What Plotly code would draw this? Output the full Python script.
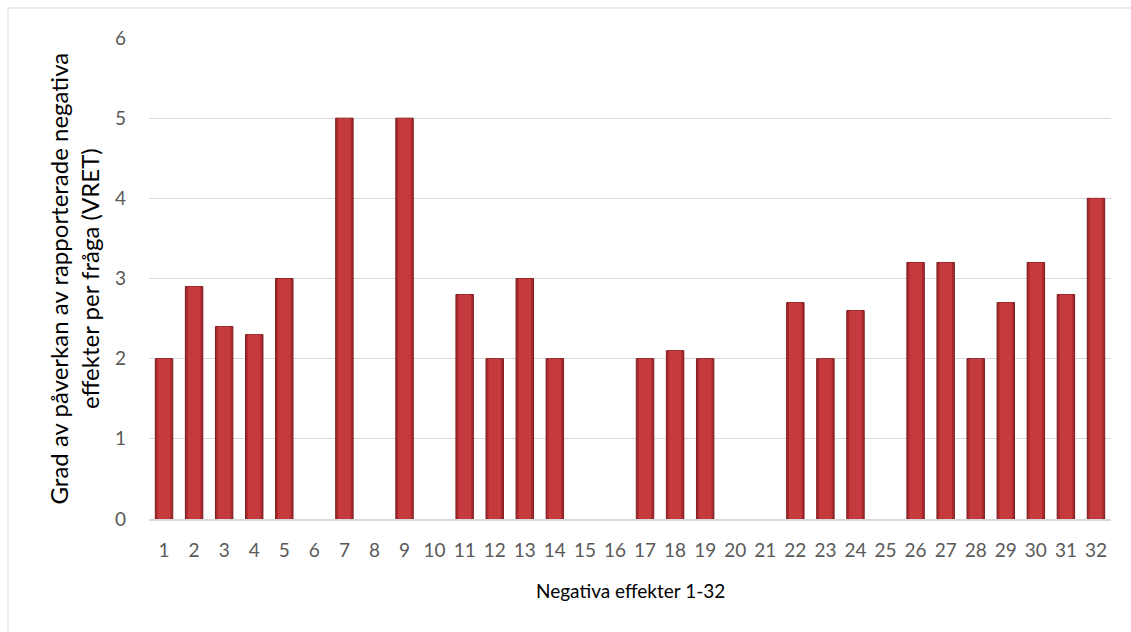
import plotly.graph_objects as go

# Negative effects 1-32 and their reported impact level (VRET)
categories = [str(i) for i in range(1, 33)]
values = [2, 2.9, 2.4, 2.3, 3, 0, 5, 0, 5, 0,
          2.8, 2, 3, 2, 0, 0, 2, 2.1, 2, 0,
          0, 2.7, 2, 2.6, 0, 3.2, 3.2, 2, 2.7, 3.2,
          2.8, 4]

y_title = "Grad av påverkan av rapporterade negativa<br>effekter per fråga (VRET)"
x_title = "Negativa effekter 1-32"

FONT = "Lato, Carlito, Calibri, 'Open Sans', sans-serif"

# no rim on empty bars so nothing is drawn on the baseline
rim_widths = [1 if v > 0 else 0 for v in values]

fig = go.Figure()

# base bar with darker rim
fig.add_trace(go.Bar(
    x=categories, y=values,
    marker=dict(color="#a9292c", line=dict(color="#7a1c1e", width=rim_widths)),
    width=0.58, hoverinfo="x+y",
))
# lighter inner strip to give the rounded look
fig.add_trace(go.Bar(
    x=categories, y=values,
    marker=dict(color="#c53a3d", line=dict(width=0)),
    width=0.42, hoverinfo="skip",
))

fig.update_layout(
    width=1131, height=632,
    margin=dict(l=149, r=20, t=38, b=113),
    paper_bgcolor="white", plot_bgcolor="white",
    barmode="overlay", showlegend=False,
    font=dict(family=FONT, size=19, color="#595959"),
    xaxis=dict(
        type="category", showgrid=False,
        showline=True, linecolor="#d9d9d9", linewidth=2,
        ticks="", tickfont=dict(size=19, color="#595959"),
        ticklabelstandoff=13,
    ),
    yaxis=dict(
        range=[0, 6], dtick=1, showgrid=True, gridcolor="#d9d9d9",
        gridwidth=1, zeroline=False, ticks="",
        tickfont=dict(size=19, color="#595959"),
        ticklabelstandoff=22,
    ),
    shapes=[dict(type="rect", xref="paper", yref="paper",
                 x0=-0.1466, x1=1.05, y0=-0.4, y1=1.0624,
                 line=dict(color="#d9d9d9", width=1), layer="below")],
    annotations=[
        dict(text=y_title, xref="paper", yref="paper",
             x=-0.079, y=0.5, xanchor="center", yanchor="middle",
             textangle=-90, showarrow=False,
             font=dict(size=24, color="#000000", family=FONT)),
        dict(text=x_title, xref="paper", yref="paper",
             x=0.5, y=-0.148, xanchor="center", yanchor="middle",
             showarrow=False,
             font=dict(size=19, color="#000000", family=FONT)),
    ],
)

fig.write_html("out.html")
